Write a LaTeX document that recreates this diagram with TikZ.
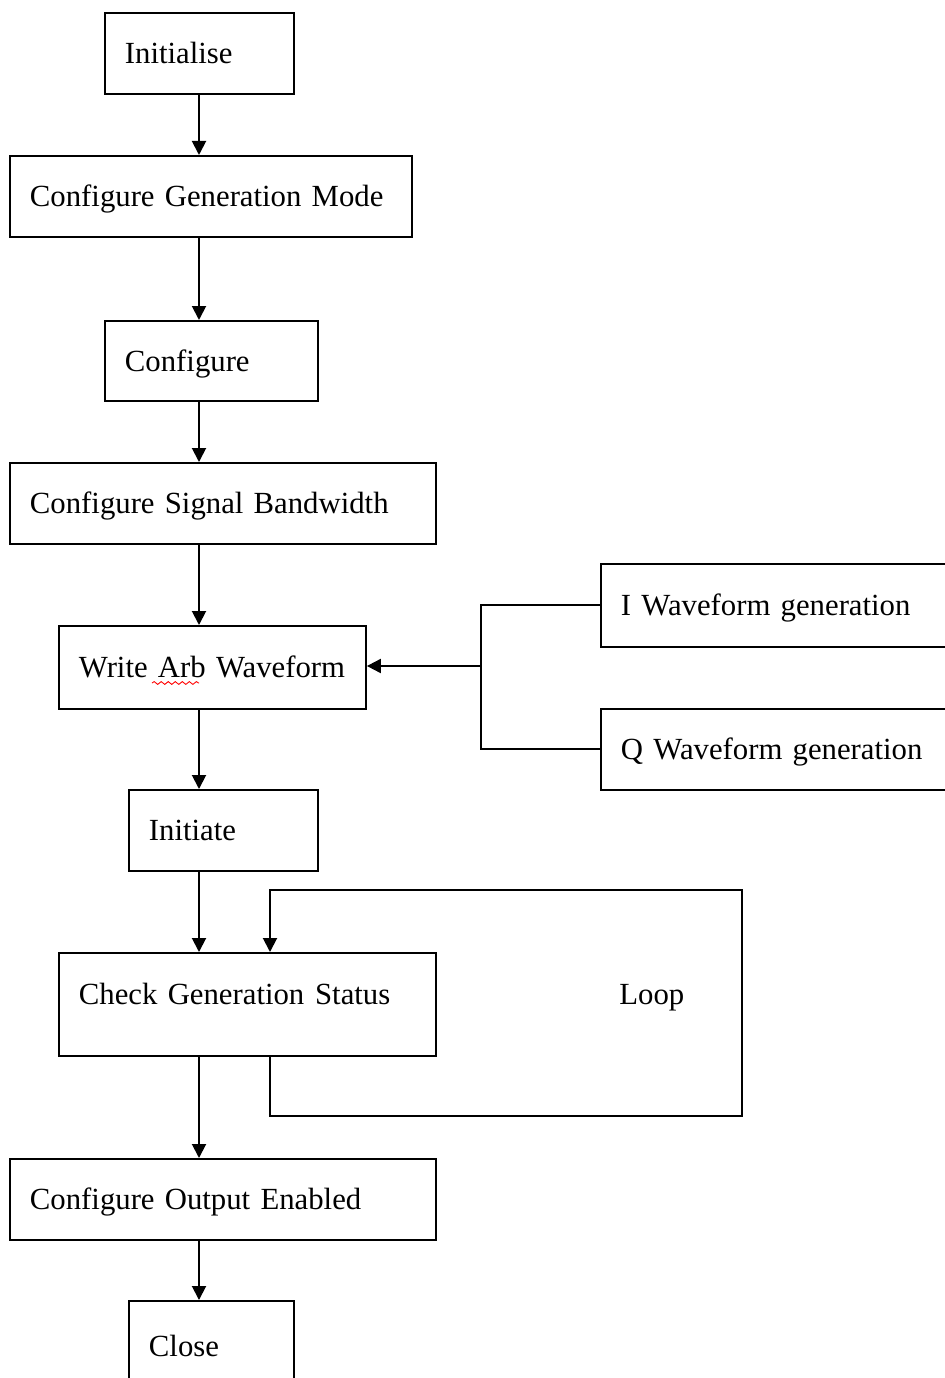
\documentclass[tikz,border=0pt]{standalone}
\usepackage{fontspec}
\setmainfont{Liberation Serif}
\usetikzlibrary{calc,arrows.meta,decorations.pathmorphing}

\tikzset{
  box/.style={draw, line width=1.1pt, anchor=north west, inner xsep=0.4cm, inner ysep=0pt,
    align=left, text width=#1-0.8cm, minimum height=1.62cm, text height=0.55cm, text depth=0.13cm},
  arr/.style={line width=1.1pt, -{Triangle[width=0.28cm,length=0.28cm]}},
  line/.style={line width=1.1pt}
}

\begin{document}
\begin{tikzpicture}[x=0.02cm, y=-0.02cm, font=\fontsize{17.5}{21}\selectfont]
\useasboundingbox (0,0) rectangle (944,1378);

\node[box=3.78cm] (init) at (104,12) {Initialise};
\node[box=8.04cm] (mode) at (9,155) {Configure Generation Mode};
\node[box=4.26cm, minimum height=1.6cm] (conf) at (104,320) {Configure};
\node[box=8.52cm] (band) at (9,462) {Configure Signal Bandwidth};
\node[box=6.14cm, minimum height=1.66cm] (arb) at (58,625) {Write Arb Waveform};
\node[box=7.6cm, minimum height=1.66cm] (iwave) at (600,563) {I Waveform generation};
\node[box=7.6cm] (qwave) at (600,708) {Q Waveform generation};
\node[box=3.78cm] (initi) at (128,789) {Initiate};
\node[box=7.54cm, minimum height=2.06cm, text depth=0.55cm] (check) at (58,952) {Check Generation\hspace{0.35em}Status};
\node[box=8.52cm] (output) at (9,1158) {Configure Output Enabled};
\node[box=3.3cm, minimum height=1.8cm] (close) at (128,1300) {Close};
\node[anchor=base west, inner sep=0pt] (loop) at (619,1004) {Loop};

% spell-check mark under Arb
\draw[red, line width=0.5pt, decorate, decoration={snake, segment length=4pt, amplitude=0.8pt}] (152,683) -- (199,683);

% main column
\coordinate (spine) at (199,0);
\draw[arr] (spine |- init.south) -- (spine |- mode.north);
\draw[arr] (spine |- mode.south) -- (spine |- conf.north);
\draw[arr] (spine |- conf.south) -- (spine |- band.north);
\draw[arr] (spine |- band.south) -- (spine |- arb.north);
\draw[arr] (spine |- arb.south) -- (spine |- initi.north);
\draw[arr] (spine |- initi.south) -- (spine |- check.north);
\draw[arr] (spine |- check.south) -- (spine |- output.north);
\draw[arr] (spine |- output.south) -- (spine |- close.north);

% I/Q waveforms into Write Arb
\coordinate (fork) at (481,666);
\draw[line] (iwave.west) -| (fork |- qwave.west) -- (qwave.west);
\draw[arr] (fork) -- (fork -| arb.east);

% status loop
\coordinate (loopx) at (270,0);
\coordinate (loopbr) at (742,1116);
\coordinate (looptr) at (742,890);
\draw[arr] (loopx |- check.south) |- (loopbr) -- (looptr) -| (loopx |- check.north);
\end{tikzpicture}
\end{document}
